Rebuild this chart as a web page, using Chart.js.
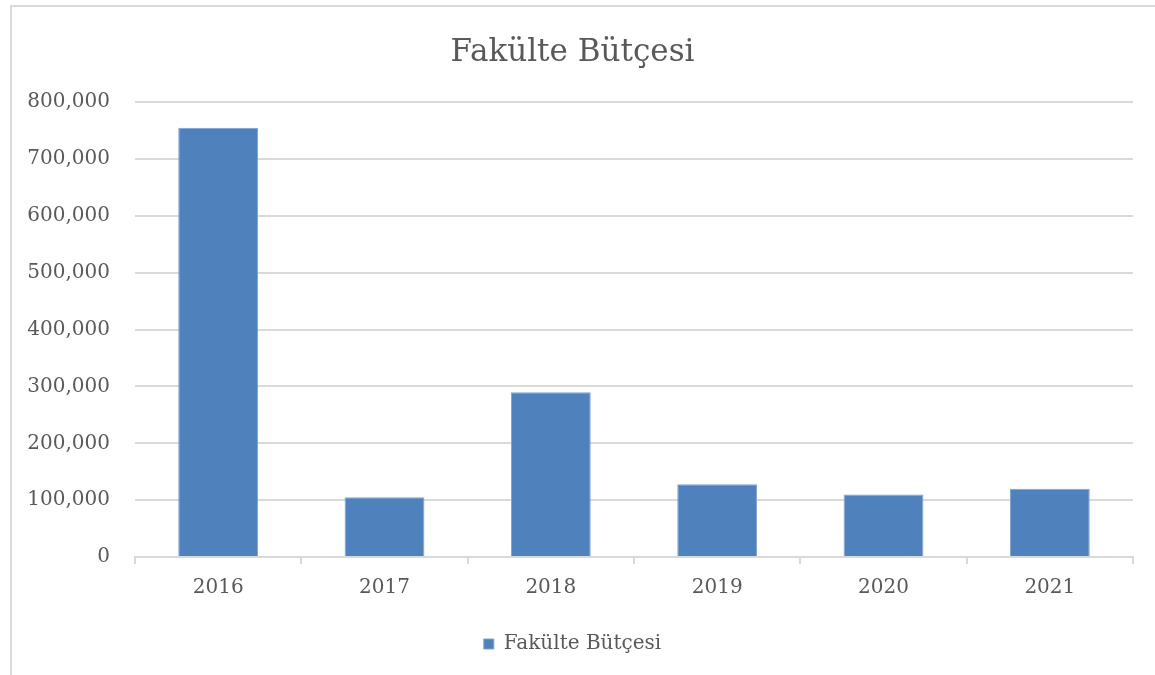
<!DOCTYPE html>
<html lang="tr">
<head>
  <meta charset="utf-8">
  <title>Fakülte Bütçesi</title>
  <script src="https://cdn.jsdelivr.net/npm/chart.js"></script>
  <style>
    body {
      margin: 0;
      background-color: #fff;
      overflow: hidden;
    }
    .frame {
      position: absolute;
      left: 10px;
      top: 5px;
      width: 1200px;
      height: 700px;
      border: 2px solid #d9d9d9;
    }
    .chart-box {
      position: absolute;
      left: 12px;
      top: 7px;
      width: 1143px;
      height: 668px;
    }
  </style>
</head>
<body>
  <div class="frame"></div>
  <div class="chart-box">
    <canvas id="budgetChart"></canvas>
  </div>
  <script>
    // Data
    const years = ['2016', '2017', '2018', '2019', '2020', '2021'];
    const budget = [755000, 105000, 290000, 128000, 110000, 120000];
    const seriesName = 'Fakülte Bütçesi';

    const textColor = '#595959';
    const gridColor = '#d9d9d9';
    const fontFamily = '"DejaVu Serif", "Liberation Serif", serif';

    const ctx = document.getElementById('budgetChart').getContext('2d');
    const budgetChart = new Chart(ctx, {
      type: 'bar',
      data: {
        labels: years,
        datasets: [{
          label: seriesName,
          data: budget,
          backgroundColor: '#4f81bd',
          borderColor: '#7ea3d3',
          borderWidth: 1,
          barPercentage: 0.48,
          categoryPercentage: 1
        }]
      },
      options: {
        responsive: true,
        maintainAspectRatio: false,
        animation: false,
        layout: {
          padding: { left: 0, right: 22, top: 0, bottom: 11 }
        },
        plugins: {
          title: {
            display: true,
            text: seriesName,
            color: textColor,
            font: { family: fontFamily, size: 31, weight: 'normal' },
            padding: { top: 27, bottom: 31 }
          },
          legend: {
            display: true,
            position: 'bottom',
            labels: {
              color: textColor,
              font: { family: fontFamily, size: 20 },
              boxWidth: 10,
              boxHeight: 10,
              padding: 22
            }
          },
          tooltip: { enabled: false }
        },
        scales: {
          x: {
            offset: true,
            grid: {
              offset: true,
              drawOnChartArea: false,
              drawTicks: true,
              tickLength: 7,
              color: gridColor,
              lineWidth: 2
            },
            border: { display: true, color: gridColor, width: 2 },
            ticks: {
              color: textColor,
              font: { family: fontFamily, size: 20 },
              padding: 12
            }
          },
          y: {
            min: 0,
            max: 800000,
            afterFit: function(scale) { scale.width = 123; },
            grid: {
              drawTicks: false,
              color: gridColor,
              lineWidth: 2
            },
            border: { display: false },
            ticks: {
              stepSize: 100000,
              color: textColor,
              font: { family: fontFamily, size: 20 },
              padding: 25,
              callback: function(value) {
                return value.toLocaleString('en-US');
              }
            }
          }
        }
      }
    });
  </script>
</body>
</html>
